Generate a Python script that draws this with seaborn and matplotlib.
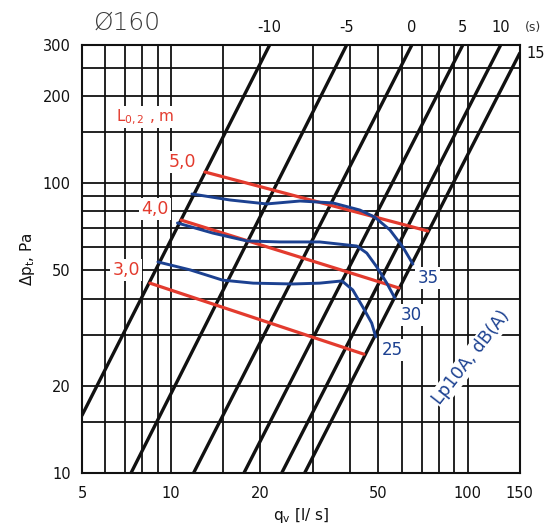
import matplotlib
matplotlib.use("Agg")
import matplotlib.pyplot as plt
import seaborn as sns
import pandas as pd

sns.set_style("white")
plt.rcParams['font.family'] = ['DejaVu Sans']
plt.rcParams['text.color'] = '#111111'
plt.rcParams['axes.labelcolor'] = '#111111'
plt.rcParams['xtick.color'] = '#111111'
plt.rcParams['ytick.color'] = '#111111'

# ---- data ----
x_ticks = [5, 10, 20, 50, 100, 150]
y_ticks = [10, 20, 50, 100, 200, 300]
x_grid = [5, 6, 7, 8, 9, 10, 15, 20, 30, 40, 50, 60, 70, 80, 90, 100, 150]
y_grid = [10, 15, 20, 30, 40, 50, 60, 70, 80, 90, 100, 150, 200, 250, 300]

# throw lines (s): start and end points
throw_labels = ["-10", "-5", "0", "5", "10", "15"]
throw_q_start = [5.0, 7.32, 11.9, 17.6, 23.6, 28.2]
throw_p_start = [15.8, 10, 10, 10, 10, 10]
throw_q_end = [21.5, 39.1, 64.9, 96.4, 129.4, 150]
throw_p_end = [300, 300, 300, 300, 300, 281]

# L0,2 red lines
l02_labels = ["5,0", "4,0", "3,0"]
l02_q_start = [13.0, 10.8, 8.48]
l02_p_start = [109.3, 74.6, 45.2]
l02_q_end = [73.4, 58.6, 44.7]
l02_p_end = [68.4, 43.5, 25.7]
l02_label_q = [10.95, 8.81, 7.04]
l02_label_p = [118.4, 81.5, 50.2]

# Lp10A blue curves
lp35_q = [11.75, 15.8, 21.0, 27.2, 35.1, 43.3, 48.6, 54.7, 60.5, 65.4]
lp35_p = [91.8, 87.5, 84.8, 86.8, 85.5, 80.8, 76.4, 69.0, 60.2, 52.6]
lp30_q = [10.5, 13.8, 18.0, 23.3, 31.7, 42.3, 45.7, 49.4, 53.4, 56.8]
lp30_p = [72.9, 67.3, 63.2, 62.7, 62.7, 60.7, 57.4, 51.4, 45.2, 40.2]
lp25_q = [9.02, 11.6, 14.9, 18.9, 25.7, 31.7, 37.7, 41.0, 44.3, 47.5, 49.0]
lp25_p = [53.5, 50.2, 46.3, 45.2, 44.9, 45.2, 46.0, 42.8, 37.4, 32.9, 29.5]
lp_labels = ["35", "30", "25"]
lp_label_q = [73.4, 64.4, 55.9]
lp_label_p = [47.1, 35.1, 26.6]

RED = "#E33B2E"
BLUE = "#1C4191"

fig = plt.figure(figsize=(5.5, 5.24), dpi=100)
ax = fig.add_axes([0.149, 0.0973, 0.796, 0.817])
ax.set_xscale("log")
ax.set_yscale("log")
ax.set_xlim(5, 150)
ax.set_ylim(10, 300)

# grid via ticks
minor_x = [v for v in x_grid if v not in x_ticks]
minor_y = [v for v in y_grid if v not in y_ticks]
ax.set_xticks(x_ticks)
ax.set_xticklabels([str(v) for v in x_ticks])
ax.set_xticks(minor_x, minor=True)
ax.set_xticklabels([], minor=True)
ax.set_yticks(y_ticks)
ax.set_yticklabels([str(v) for v in y_ticks])
ax.set_yticks(minor_y, minor=True)
ax.set_yticklabels([], minor=True)
ax.grid(True, which="both", color="#111111", linewidth=1.3)
ax.tick_params(which="both", length=0)
ax.tick_params(axis="x", pad=9, labelsize=10.5)
ax.tick_params(axis="y", pad=8, labelsize=10.5)
for sp in ax.spines.values():
    sp.set_color("#111111")
    sp.set_linewidth(1.5)

# throw lines
for lab, q0, p0, q1, p1 in zip(throw_labels, throw_q_start, throw_p_start, throw_q_end, throw_p_end):
    df = pd.DataFrame({"q": [q0, q1], "p": [p0, p1]})
    sns.lineplot(data=df, x="q", y="p", ax=ax, color="#111111", linewidth=2.4,
                 sort=False, estimator=None, zorder=3)
    if lab == "15":
        ax.annotate(lab, (q1, p1), xytext=(5, 0), textcoords="offset points",
                    ha="left", va="center", fontsize=10.5, annotation_clip=False)
    else:
        ax.annotate(lab, (q1, p1), xytext=(0, 7), textcoords="offset points",
                    ha="center", va="bottom", fontsize=10.5, annotation_clip=False)
ax.text(1.03, 1.04, "(s)", transform=ax.transAxes, fontsize=9, ha="center", va="center",
        color="#333333")

# red lines
for lab, q0, p0, q1, p1, lq, lp in zip(l02_labels, l02_q_start, l02_p_start, l02_q_end,
                                       l02_p_end, l02_label_q, l02_label_p):
    df = pd.DataFrame({"q": [q0, q1], "p": [p0, p1]})
    sns.lineplot(data=df, x="q", y="p", ax=ax, color=RED, linewidth=2.3,
                 sort=False, estimator=None, zorder=4)
    ax.text(lq, lp, lab, color=RED, fontsize=12.5, ha="center", va="center", zorder=6,
            bbox=dict(facecolor="white", edgecolor="none", pad=1.5))

ax.text(8.15, 169, r"L$_{0,2}$ , m", color=RED, fontsize=11, ha="center", va="center",
        zorder=6, bbox=dict(facecolor="white", edgecolor="none", pad=1))

# blue curves
for qs, ps in [(lp35_q, lp35_p), (lp30_q, lp30_p), (lp25_q, lp25_p)]:
    df = pd.DataFrame({"q": qs, "p": ps})
    sns.lineplot(data=df, x="q", y="p", ax=ax, color=BLUE, linewidth=2.1,
                 sort=False, estimator=None, zorder=5)
for lab, lq, lp in zip(lp_labels, lp_label_q, lp_label_p):
    ax.text(lq, lp, lab, color=BLUE, fontsize=12, ha="center", va="center", zorder=6,
            bbox=dict(facecolor="white", edgecolor="none", pad=1.5))
ax.text(103, 25.1, "Lp10A, dB(A)", color=BLUE, fontsize=12.5, rotation=52,
        ha="center", va="center", zorder=6, rotation_mode="anchor",
        bbox=dict(facecolor="white", edgecolor="none", pad=1))

ax.set_xlabel(r"q$_\mathrm{v}$ [l/ s]", fontsize=11, labelpad=4)
ax.set_ylabel(r"$\Delta$p$_\mathrm{t}$, Pa", fontsize=11, labelpad=4)
fig.text(127 / 550, 1 - 23 / 524, "Ø160", fontsize=18, color="#3a3a3a",
         ha="center", va="center", fontweight="light")

fig.savefig("out.png", dpi=100)
